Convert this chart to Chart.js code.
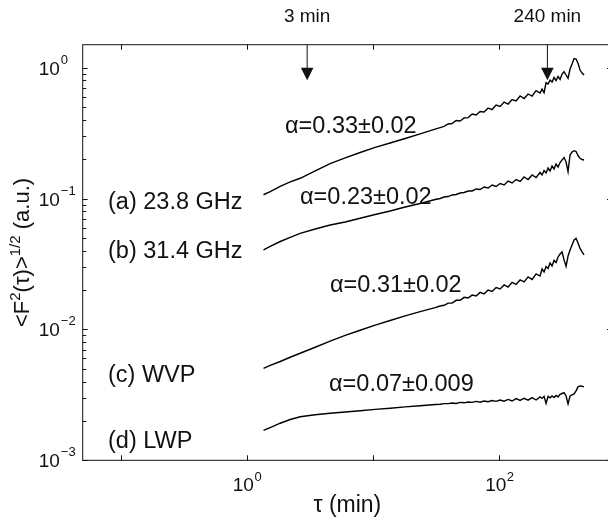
<!DOCTYPE html>
<html><head><meta charset="utf-8">
<script src="https://cdn.jsdelivr.net/npm/chart.js@4/dist/chart.umd.min.js"></script>
<style>
html,body{margin:0;padding:0;background:#fff;overflow:hidden;width:608px;height:521px;}
#wrap{position:relative;width:620px;height:521px;}
canvas{display:block;}
</style></head><body>
<div id="wrap"><canvas id="c" width="620" height="521"></canvas></div>
<script>
// ---- data (tau in minutes, fluctuation function in a.u.) ----
const tauMin = [1.353,1.529,1.835,2.202,2.642,3.474,4.565,6.002,7.890,10.37,13.63,17.92,23.56,30.97,
 33.92,36.49,39.26,42.22,45.42,48.86,52.54,56.52,60.80,65.40,70.35,75.67,81.40,87.56,94.18,101.3,109.0,117.2,126.1,135.6,145.9,156.9,168.8,181.6,195.3,
 210.0,217.8,225.9,234.3,243.0,252.0,261.4,271.1,281.2,291.6,302.5,313.7,325.4,337.5,349.9,362.9,376.4,390.3,404.9,419.9,435.5,451.7,468.4];

const valsA = [0.107,0.113,0.124,0.134,0.143,0.163,0.185,0.205,0.225,0.246,0.266,0.288,0.312,0.340,
 0.349,0.356,0.372,0.375,0.395,0.392,0.413,0.416,0.443,0.435,0.463,0.459,0.492,0.479,0.519,0.506,0.547,0.528,0.572,0.557,0.608,0.582,0.630,0.608,0.669,
 0.641,0.687,0.644,0.768,0.751,0.805,0.778,0.842,0.799,0.857,0.813,0.895,0.932,0.880,0.830,0.977,1.067,1.176,1.166,1.080,0.960,0.911,0.880];

const valsB = [0.0405,0.0432,0.0470,0.0505,0.0543,0.0586,0.0628,0.0663,0.0707,0.0756,0.0804,0.0863,0.0918,0.0984,
 0.1002,0.1028,0.1037,0.1066,0.1075,0.1103,0.1113,0.1143,0.1143,0.1184,0.1174,0.1227,0.1205,0.1270,0.1237,0.1304,0.1270,0.1362,0.1316,0.1399,0.1351,0.1462,0.1399,0.1515,0.1449,
 0.1583,0.1515,0.1639,0.1569,0.1713,0.1625,0.1774,0.1683,0.1837,0.1743,0.1887,0.1972,0.2061,0.1904,0.1605,0.2153,0.2270,0.2323,0.2290,0.2134,0.2032,0.1989,0.1972];

const valsC = [0.00505,0.00531,0.00569,0.00613,0.00658,0.00731,0.00813,0.00900,0.00986,0.0108,0.0117,0.0127,0.0137,0.0147,
 0.0151,0.0153,0.0159,0.0159,0.0167,0.0167,0.0176,0.0174,0.0183,0.0180,0.0192,0.0187,0.0200,0.0195,0.0209,0.0204,0.0219,0.0211,0.0229,0.0221,0.0239,0.0231,0.0252,0.0241,0.0266,
 0.0256,0.0290,0.0275,0.0303,0.0292,0.0322,0.0306,0.0337,0.0325,0.0358,0.0377,0.0391,0.0340,0.0303,0.0364,0.0405,0.0442,0.0483,0.0496,0.0458,0.0416,0.0391,0.0371];

const valsD = [0.00169,0.00178,0.00192,0.00205,0.00215,0.00223,0.00229,0.00234,0.00239,0.00245,0.00250,0.00256,0.00261,0.00267,
 0.00268,0.00271,0.00271,0.00274,0.00272,0.00277,0.00275,0.00279,0.00277,0.00282,0.00278,0.00284,0.00280,0.00286,0.00282,0.00289,0.00283,0.00292,0.00284,0.00296,0.00287,0.00298,0.00288,0.00301,0.00289,
 0.00305,0.00297,0.00308,0.00272,0.00308,0.00300,0.00310,0.00302,0.00313,0.00305,0.00319,0.00324,0.00329,0.00310,0.00270,0.00310,0.00316,0.00322,0.00339,0.00364,0.00370,0.00368,0.00364];

const seriesNames = ['(a) 23.8 GHz','(b) 31.4 GHz','(c) WVP','(d) LWP'];
const alphaLabels = ['\u03b1=0.33\u00b10.02','\u03b1=0.23\u00b10.02','\u03b1=0.31\u00b10.02','\u03b1=0.07\u00b10.009'];
const arrowTau = [3, 240];
const arrowLabels = ['3 min','240 min'];
const xTickValues = [0.1, 1, 10, 100];
const xLabelValues = [1, 100];
const xLabelExps = ['0','2'];
const yLabelValues = [1, 0.1, 0.01, 0.001];
const yLabelExps = ['0','\u22121','\u22122','\u22123'];
const xTitle = '\u03c4 (min)';

// ---- styling / layout ----
const FONT = '"Liberation Sans", Arial, Helvetica, sans-serif';
const INK = '#111';

function mk(vals){ return tauMin.map((t,i)=>({x:t,y:vals[i]})); }

const deco = {
  id:'deco',
  afterDatasetsDraw(chart){
    const {ctx, chartArea:ca, scales} = chart;
    const xs = scales.x, ys = scales.y;
    ctx.save();
    ctx.strokeStyle = INK; ctx.fillStyle = INK; ctx.lineWidth = 1;
    const seg = (x1,y1,x2,y2)=>{ctx.beginPath();ctx.moveTo(x1,y1);ctx.lineTo(x2,y2);ctx.stroke();};
    // frame
    ctx.strokeRect(ca.left, ca.top, ca.right-ca.left, ca.bottom-ca.top);
    // x ticks (inward, bottom & top)
    xTickValues.forEach(v=>{
      const p = Math.round(xs.getPixelForValue(v))+0.5;
      seg(p, ca.bottom, p, ca.bottom-5);
      seg(p, ca.top, p, ca.top+5);
    });
    // y ticks: majors and minors
    [0.001,0.01,0.1,1].forEach(d=>{
      for(let m=1;m<=9;m++){
        const v = m*d;
        if(v>ys.max+1e-12 || v<ys.min-1e-12) continue;
        const p = Math.round(ys.getPixelForValue(v))+0.5;
        const len = m===1?5:3.5;
        seg(ca.left, p, ca.left+len, p);
        seg(ca.right, p, ca.right-len, p);
      }
    });
    // tick labels
    ctx.textBaseline = 'alphabetic';
    ctx.textAlign = 'left';
    xLabelValues.forEach((v,i)=>{
      const p = xs.getPixelForValue(v);
      ctx.font = '19px '+FONT; const wb = ctx.measureText('10').width;
      ctx.font = '13px '+FONT; const we = ctx.measureText(xLabelExps[i]).width;
      const s = p-(wb+we)/2;
      ctx.font = '19px '+FONT; ctx.fillText('10', s, ca.bottom+30.5);
      ctx.font = '13px '+FONT; ctx.fillText(xLabelExps[i], s+wb+0.5, ca.bottom+21);
    });
    yLabelValues.forEach((v,i)=>{
      const p = ys.getPixelForValue(v);
      const bx = ca.left-44;
      ctx.font = '19px '+FONT; const wb = ctx.measureText('10').width;
      ctx.fillText('10', bx, p+7);
      ctx.font = '13px '+FONT; ctx.fillText(yLabelExps[i], bx+wb+1, p-4);
    });
    // x title
    ctx.font = '23px '+FONT; ctx.textAlign='center';
    ctx.fillText(xTitle, (ca.left+ca.right)/2, ca.bottom+52);
    // y title (rotated, with superscripts)
    const parts = [['<F',22,0],['2',15,-9],['(\u03c4)>',22,0],['1/2',15,-9],[' (a.u.)',22,0]];
    let tot=0; parts.forEach(pt=>{ctx.font=pt[1]+'px '+FONT; tot+=ctx.measureText(pt[0]).width;});
    ctx.save();
    ctx.translate(29, (ca.top+ca.bottom)/2);
    ctx.rotate(-Math.PI/2);
    ctx.textAlign='left';
    let cx = -tot/2;
    parts.forEach(pt=>{ctx.font=pt[1]+'px '+FONT; ctx.fillText(pt[0], cx, pt[2]); cx+=ctx.measureText(pt[0]).width;});
    ctx.restore();
    // arrows with labels
    arrowTau.forEach((v,i)=>{
      const p = xs.getPixelForValue(v);
      seg(p, ca.top, p, ca.top+24);
      ctx.beginPath();
      ctx.moveTo(p-6.3, ca.top+23); ctx.lineTo(p+6.3, ca.top+23); ctx.lineTo(p, ca.top+35.5); ctx.closePath(); ctx.fill();
      ctx.font = '19px '+FONT; ctx.textAlign='center';
      ctx.fillText(arrowLabels[i], p, 22);
    });
    // series names and exponents
    ctx.textAlign='left';
    ctx.font = '23.5px '+FONT;
    const nameY = [200, 249, 373, 439];
    seriesNames.forEach((s,i)=>ctx.fillText(s, 108, nameY[i]+8.5));
    const aPos = [[285,124],[300,195],[330,283],[329,382]];
    alphaLabels.forEach((s,i)=>ctx.fillText(s, aPos[i][0], aPos[i][1]+8.5));
    ctx.restore();
  }
};

const ds = [valsA, valsB, valsC, valsD].map((v,i)=>({
  label: seriesNames[i], data: mk(v), borderColor:'#000', borderWidth:1.4,
  pointRadius:0, tension:0, fill:false
}));

new Chart(document.getElementById('c'), {
  type:'line',
  data:{datasets:ds},
  options:{
    responsive:false, animation:false, devicePixelRatio:1, events:[],
    parsing:true,
    layout:{padding:{left:82.7, top:44.7, right:8, bottom:60.7}},
    plugins:{legend:{display:false}, tooltip:{enabled:false}},
    scales:{
      x:{type:'logarithmic', min:0.05, max:780, display:false},
      y:{type:'logarithmic', min:0.001, max:1.5, display:false}
    }
  },
  plugins:[deco]
});
</script>
</body></html>
